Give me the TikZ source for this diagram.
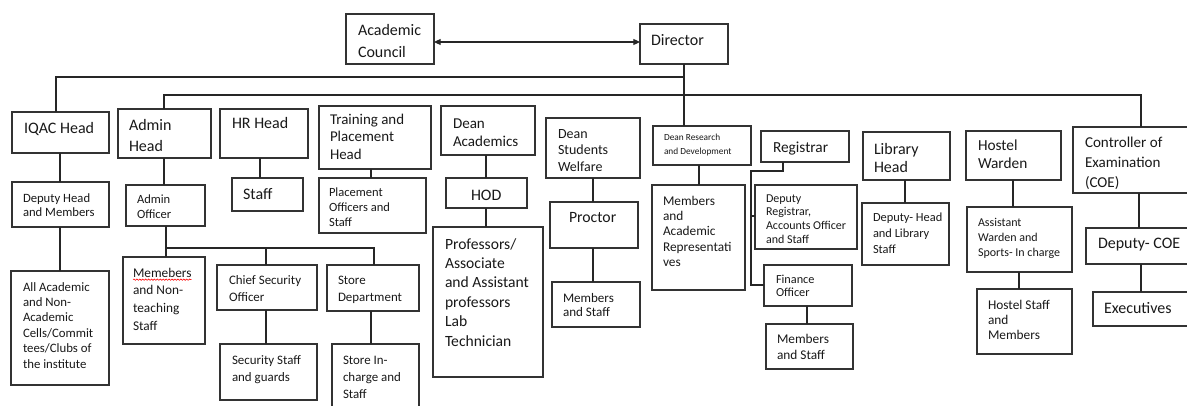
\documentclass[tikz,border=0pt]{standalone}
\usepackage{fontspec}
\setmainfont{Carlito}
\usetikzlibrary{arrows.meta,decorations.pathmorphing}
\tikzset{
  box/.style={draw=black!80, line width=0.8pt, inner sep=0pt, outer sep=0pt},
  conn/.style={draw=black!85, line width=0.8pt},
  lbl/.style={anchor=base west, inner sep=0pt, outer sep=0pt, text=black!90},
  >={Triangle[length=5pt,width=4.5pt]}
}
\newcommand\bx[5]{\node[box, minimum width={(#4-#2)*0.75pt}, minimum height={(#5-#3)*0.75pt}] (#1) at ({(#2+#4)/2},{(#3+#5)/2}) {};}
\newcommand\tl[6]{\node[lbl] (#1) at (#2,#3) {\fontsize{#4}{#5}\selectfont\begin{tabular}[t]{@{}l@{}}#6\end{tabular}};}
\begin{document}
\begin{tikzpicture}[x=0.75pt,y=-0.75pt]
\useasboundingbox (0,0) rectangle (1187,406);
\fill[white] (0,0) rectangle (1187,406);
\clip (0,0) rectangle (1187,406);
% boxes
\bx{ac}{346}{14}{434}{64}
\bx{dir}{640}{24}{728}{64}
\bx{iqac}{12}{112}{109}{153}
\bx{adm}{118}{109}{211}{158}
\bx{hr}{220}{109}{308}{158}
\bx{tp}{319}{106}{431}{169}
\bx{da}{441}{106}{535}{155}
\bx{dsw}{546}{118}{640}{178}
\bx{drd}{653}{126}{751}{165}
\bx{reg}{761}{131}{849}{162}
\bx{lib}{863}{132}{950}{180}
\bx{hw}{966}{131}{1061}{180}
\bx{coe}{1073}{127}{1200}{193}
\bx{dep}{12}{182}{109}{227}
\bx{all}{11}{271}{109}{385}
\bx{ao}{126}{185}{205}{226}
\bx{mem}{123}{257}{205}{344}
\bx{cso}{217}{265}{317}{310}
\bx{sd}{327}{265}{419}{311}
\bx{ssg}{220}{344}{317}{400}
\bx{sic}{332}{344}{419}{420}
\bx{hrs}{232}{178}{303}{211}
\bx{po}{319}{178}{426}{233}
\bx{hod}{446}{178}{527}{208}
\bx{prof}{433}{227}{543}{377}
\bx{proc}{550}{202}{638}{248}
\bx{pms}{552}{282}{640}{327}
\bx{mar}{652}{185}{745}{290}
\bx{dr}{755}{185}{857}{249}
\bx{fo}{764}{265}{852}{306}
\bx{fms}{766}{324}{853}{369}
\bx{lds}{862}{203}{949}{265}
\bx{aw}{967}{207}{1072}{272}
\bx{hs}{977}{289}{1072}{354}
\bx{dcoe}{1086}{228}{1200}{264}
\bx{exe}{1093}{292}{1200}{326}
% texts
\tl{act}{358}{36}{12}{16.3}{Academic\\Council}
\tl{dirt}{651}{46}{12}{15}{Director}
\tl{iqact}{24}{133}{12}{15}{IQAC Head}
\tl{admt}{129}{131}{12}{15.75}{Admin\\Head}
\tl{hrt}{232}{129}{12}{15}{HR Head}
\tl{tpt}{330}{125}{11.2}{12.75}{Training and\\Placement\\Head}
\tl{dat}{453}{128}{11.3}{13.5}{Dean\\Academics}
\tl{dswt}{558}{138}{10.5}{12.5}{Dean\\Students\\Welfare}
\tl{drdt}{664}{141}{7}{10.5}{Dean Research\\and Development}
\tl{regt}{773}{152}{11.5}{14}{Registrar}
\tl{libt}{874}{154}{12}{13.75}{Library\\Head}
\tl{hwt}{978}{151}{11.5}{13.25}{Hostel\\Warden}
\tl{coet}{1085}{147}{11.3}{15}{Controller of\\Examination\\(COE)}
\tl{dept}{23}{202}{9.5}{10.5}{Deputy Head\\and Members}
\tl{allt}{23}{291}{9.6}{11.6}{All Academic\\and Non-\\Academic\\Cells/Commit\\tees/Clubs of\\the institute}
\tl{aot}{137}{203}{9.4}{11.25}{Admin\\Officer}
\tl{memt}{133}{277}{10}{13.35}{Memebers\\and Non-\\teaching\\Staff}
\tl{csot}{229}{284}{9.7}{13}{Chief Security\\Officer}
\tl{sdt}{338}{284}{9.7}{13}{Store\\Department}
\tl{ssgt}{232}{364}{9.7}{13}{Security Staff\\and guards}
\tl{sict}{343}{364}{9.7}{13}{Store In-\\charge and\\Staff}
\tl{hrst}{243}{199}{12}{15}{Staff}
\tl{pot}{329}{196}{9.4}{11.6}{Placement\\Officers and\\Staff}
\tl{hodt}{471}{200}{12}{15}{HOD}
\tl{proft}{445}{249}{11.7}{14.55}{Professors/\\Associate\\and Assistant\\professors\\Lab\\Technician}
\tl{proct}{569}{222}{11.8}{15}{Proctor}
\tl{pmst}{563}{302}{9.8}{11}{Members\\and Staff}
\tl{mart}{663}{205}{10}{11.55}{Members\\and\\Academic\\Representati\\ves}
\tl{drt}{766}{202}{9}{10.4}{Deputy\\Registrar,\\Accounts Officer\\and Staff}
\tl{fot}{776}{283}{9.2}{10.3}{Finance\\Officer}
\tl{fmst}{777}{343}{10}{12.5}{Members\\and Staff}
\tl{ldst}{873}{221}{9.3}{12}{Deputy- Head\\and Library\\Staff}
\tl{awt}{978}{226}{9}{11.6}{Assistant\\Warden and\\Sports- In charge}
\tl{hst}{988}{309}{10}{11.5}{Hostel Staff\\and\\Members}
\tl{dcoet}{1098}{248}{12}{15}{Deputy- COE}
\tl{exet}{1104}{313}{12}{15}{Executives}
% spell-check squiggle
\draw[red, line width=0.45pt, decorate, decoration={snake, amplitude=0.5pt, segment length=2.2pt}]
  ([yshift=-2pt]memt.base west) -- ([yshift=-2pt,xshift=44pt]memt.base west);
% connectors
\draw[conn, <->] (ac.east |- 0,42) -- (dir.west |- 0,42);
\draw[conn] (dir.south -| 684,0) -- (drd.north -| 684,0);
\coordinate (j1) at (684,77);
\draw[conn] (j1) -| (iqac.north -| 56,0);
\coordinate (j2l) at (164,95);
\coordinate (j2r) at (1141,95);
\draw[conn] (adm.north -| j2l) -- (j2l) -- (j2r) -- (coe.north -| j2r);
\draw[conn] (iqac.south -| 60,0) -- (dep.north -| 60,0);
\draw[conn] (dep.south -| 60,0) -- (all.north -| 60,0);
\draw[conn] (adm.south -| 164,0) -- (ao.north -| 164,0);
\coordinate (j3) at (166,248);
\coordinate (j3r) at (374,248);
\draw[conn] (ao.south -| j3) -- (mem.north -| j3);
\draw[conn] (j3) -- (j3r) -- (sd.north -| j3r);
\draw[conn] (cso.north -| 266,0) |- (j3);
\draw[conn] (cso.south -| 266,0) -- (ssg.north -| 266,0);
\draw[conn] (sd.south -| 371,0) -- (sic.north -| 371,0);
\draw[conn] (hr.south -| 260,0) -- (hrs.north -| 260,0);
\draw[conn] (tp.south -| 371,0) -- (po.north -| 371,0);
\draw[conn] (da.south -| 486,0) -- (hod.north -| 486,0);
\draw[conn] (hod.south -| 486,0) -- (prof.north -| 486,0);
\draw[conn] (dsw.south -| 593,0) -- (proc.north -| 593,0);
\draw[conn] (proc.south -| 593,0) -- (pms.north -| 593,0);
\draw[conn] (drd.south -| 699,0) -- (mar.north -| 699,0);
\coordinate (r1) at (783,171);
\coordinate (r2) at (751,171);
\coordinate (r3) at (751,216);
\coordinate (r4) at (751,285);
\draw[conn] (reg.south -| r1) -- (r1) -- (r2) -- (r4) -- (fo.west |- r4);
\draw[conn] (r3) -- (dr.west |- r3);
\draw[conn] (fo.south -| 807,0) -- (fms.north -| 807,0);
\draw[conn] (lib.south -| 905,0) -- (lds.north -| 905,0);
\draw[conn] (hw.south -| 1013,0) -- (aw.north -| 1013,0);
\draw[conn] (aw.south -| 1019,0) -- (hs.north -| 1019,0);
\draw[conn] (coe.south -| 1139,0) -- (dcoe.north -| 1139,0);
\draw[conn] (dcoe.south -| 1141,0) -- (exe.north -| 1141,0);
\end{tikzpicture}
\end{document}
